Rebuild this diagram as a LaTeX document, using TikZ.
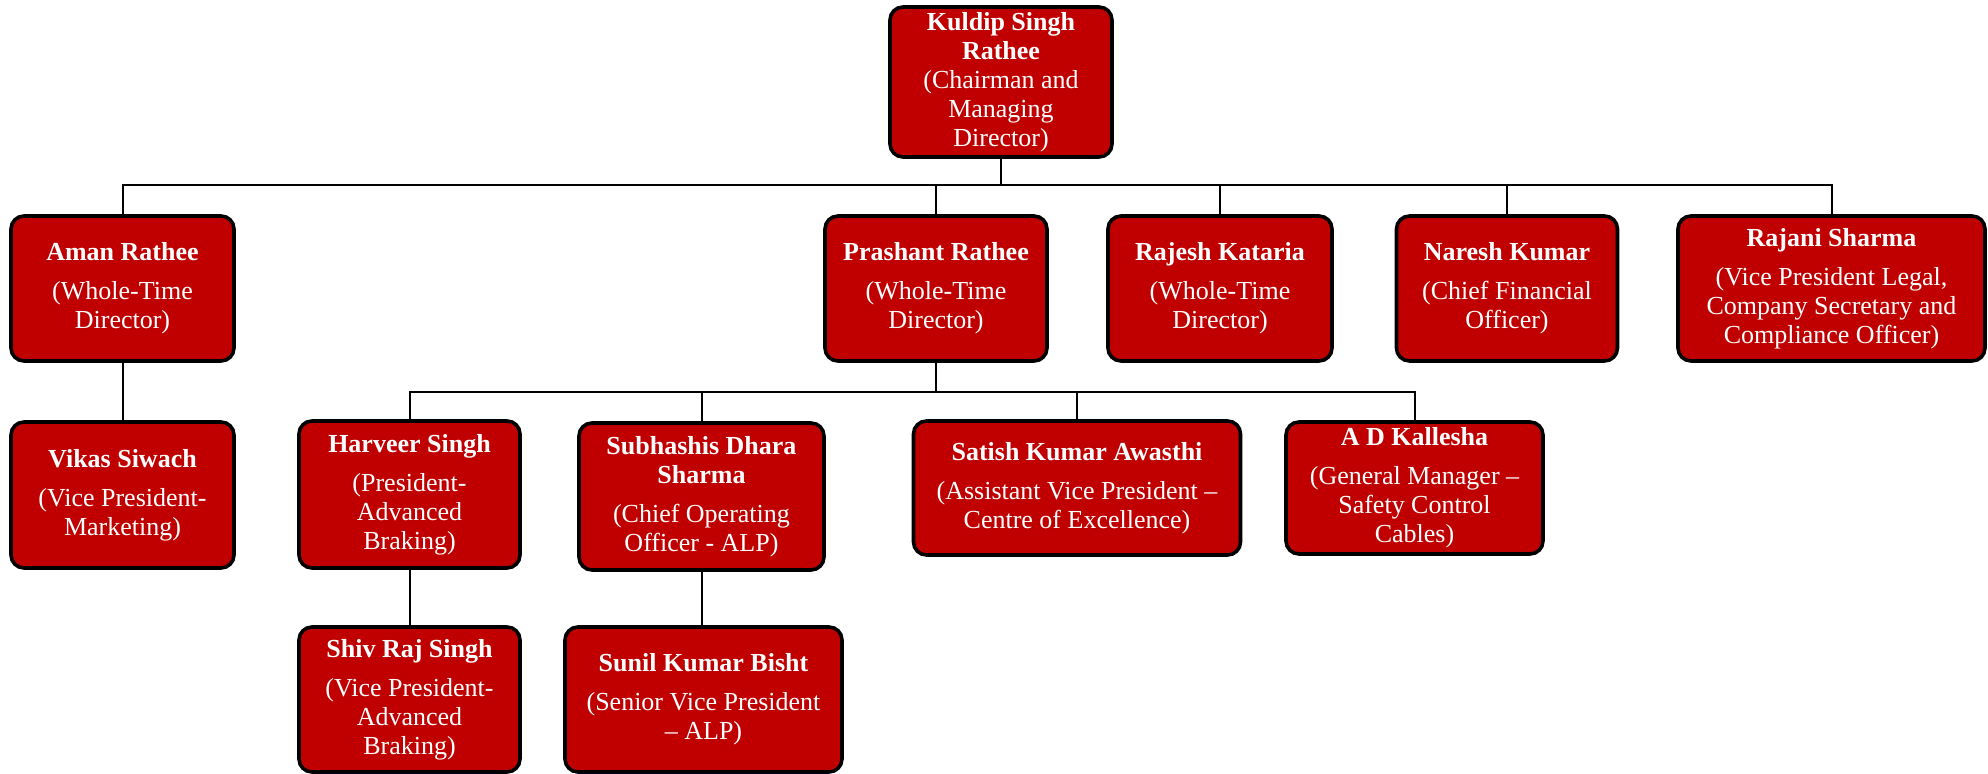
\documentclass[tikz,border=0pt]{standalone}
\usepackage{fontspec}
\setmainfont{Liberation Serif}
\usepackage{tikz}
\definecolor{ChartRed}{HTML}{C00000}
\definecolor{ChartEdge}{HTML}{000000}

\begin{document}
\begin{tikzpicture}[x=0.5pt, y=-0.5pt,
  person/.style={draw=ChartEdge, line width=1.8pt, fill=ChartRed, text=white, rounded corners=6.5pt, align=center, inner sep=2pt, font=\fontsize{13pt}{14.5pt}\selectfont},
  link/.style={draw=ChartEdge, line width=1pt}]
  \useasboundingbox (0,0) rectangle (1988,774);

  \node[person, minimum width=111pt, minimum height=75pt] (kuldip) at (1001,82) {
    \textbf{Kuldip Singh}\\\textbf{Rathee}\\(Chairman and\\Managing\\Director)
  };

  \node[person, minimum width=111.5pt, minimum height=72.5pt] (aman) at (122.5,288.5) {
    \textbf{Aman Rathee}\\[5pt](Whole-Time\\Director)
  };
  \node[person, minimum width=111pt, minimum height=72.5pt] (prashant) at (936,288.5) {
    \textbf{Prashant Rathee}\\[5pt](Whole-Time\\Director)
  };
  \node[person, minimum width=112pt, minimum height=72.5pt] (rajesh) at (1220,288.5) {
    \textbf{Rajesh Kataria}\\[5pt](Whole-Time\\Director)
  };
  \node[person, minimum width=110.5pt, minimum height=72.5pt] (naresh) at (1507,288.5) {
    \textbf{Naresh Kumar}\\[5pt](Chief Financial\\Officer)
  };
  \node[person, minimum width=153.5pt, minimum height=72.5pt] (rajani) at (1831.5,288.5) {
    \textbf{Rajani Sharma}\\[5pt](Vice President Legal,\\Company Secretary and\\Compliance Officer)
  };

  \node[person, minimum width=111.5pt, minimum height=73pt] (vikas) at (122.5,495) {
    \textbf{Vikas Siwach}\\[5pt](Vice President-\\Marketing)
  };
  \node[person, minimum width=110.5pt, minimum height=73.5pt] (harveer) at (409.5,494.5) {
    \textbf{Harveer Singh}\\[5pt](President-\\Advanced\\Braking)
  };
  \node[person, minimum width=122.5pt, minimum height=73.5pt] (subhashis) at (701.5,496.5) {
    \textbf{Subhashis Dhara}\\\textbf{Sharma}\\[5pt](Chief Operating\\Officer - ALP)
  };
  \node[person, minimum width=163.5pt, minimum height=67pt] (satish) at (1077,488) {
    \textbf{Satish Kumar Awasthi}\\[5pt](Assistant Vice President --\\Centre of Excellence)
  };
  \node[person, minimum width=128.5pt, minimum height=66pt] (kallesha) at (1414.5,488) {
    \textbf{A D Kallesha}\\[5pt](General Manager --\\Safety Control\\Cables)
  };

  \node[person, minimum width=110.5pt, minimum height=72.5pt] (shivraj) at (409.5,699.5) {
    \textbf{Shiv Raj Singh}\\[5pt](Vice President-\\Advanced\\Braking)
  };
  \node[person, minimum width=138.5pt, minimum height=72.5pt] (sunil) at (703.5,699.5) {
    \textbf{Sunil Kumar Bisht}\\[5pt](Senior Vice President\\-- ALP)
  };

  \coordinate (busTop) at (1001,185);
  \coordinate (busMid) at (936,392);

  \foreach \n in {aman,prashant,rajesh,naresh,rajani}
    \draw[link] (kuldip.south) -- (kuldip.south |- busTop) -| (\n.north);
  \foreach \n in {harveer,subhashis,satish,kallesha}
    \draw[link] (prashant.south) -- (prashant.south |- busMid) -| (\n.north);

  \draw[link] (aman.south) -- (vikas.north);
  \draw[link] (harveer.south) -- (shivraj.north);
  \draw[link] (subhashis.south) -- (subhashis.south |- sunil.north);
\end{tikzpicture}
\end{document}
